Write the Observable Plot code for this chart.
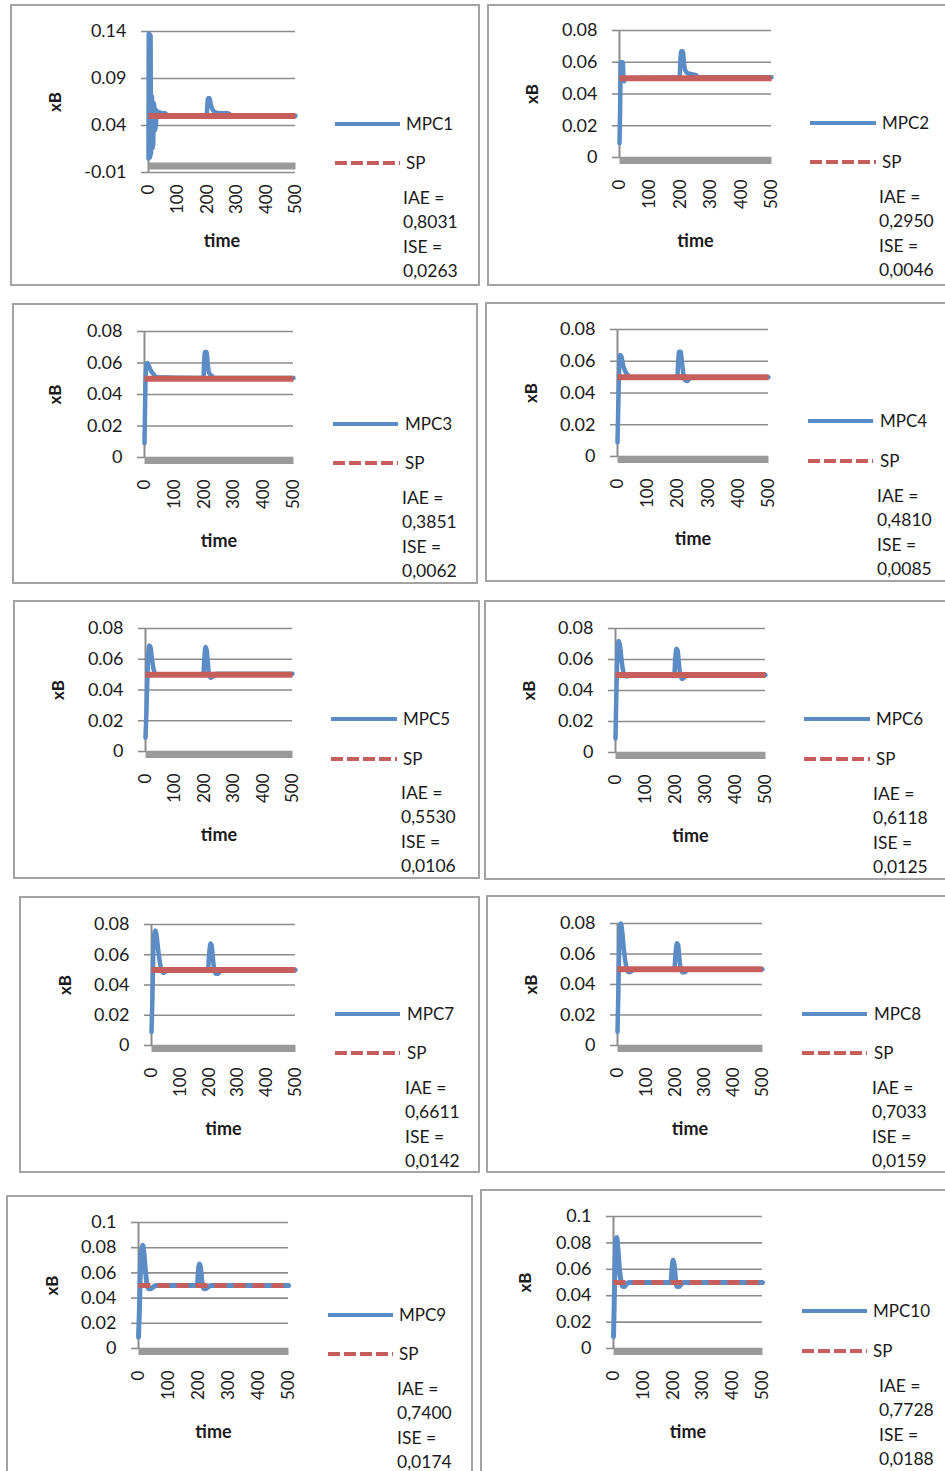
<!DOCTYPE html>
<html><head><meta charset="utf-8">
<script src="https://cdn.jsdelivr.net/npm/d3@7"></script>
<script src="https://cdn.jsdelivr.net/npm/@observablehq/plot@0.6"></script>
<style>
body{margin:0;background:#fff;}
#page{position:relative;width:945px;height:1471px;overflow:hidden;font-family:Lato,sans-serif;color:#1a1a1a;}
.box{position:absolute;border:2px solid #a3a3a3;box-sizing:border-box;}
.chart{position:absolute;}
.chart svg{max-width:none;}
.lg{position:absolute;font-size:17px;line-height:24px;height:24px;white-space:nowrap;}
.st{position:absolute;font-size:17.5px;line-height:24.6px;white-space:nowrap;}
</style></head><body><div id="page"></div>
<script>
// ---------- data ----------
const timeTicks = [0, 100, 200, 300, 400, 500];
const yTicksP1 = [-0.01, 0.04, 0.09, 0.14];
const yTicks08 = [0, 0.02, 0.04, 0.06, 0.08];
const yTicks10 = [0, 0.02, 0.04, 0.06, 0.08, 0.1];
const seriesNames = ["MPC1","MPC2","MPC3","MPC4","MPC5","MPC6","MPC7","MPC8","MPC9","MPC10"];
const iaeValues = ["0,8031","0,2950","0,3851","0,4810","0,5530","0,6118","0,6611","0,7033","0,7400","0,7728"];
const iseValues = ["0,0263","0,0046","0,0062","0,0085","0,0106","0,0125","0,0142","0,0159","0,0174","0,0188"];
const setpointSeries = [[0, 0.05], [500, 0.05]];
const zeroSeries = [[0, 0], [500, 0]];

const mpc1 = [[0,0.005],[1,0.138],[2.5,0.138],[4,0.006],[5.5,0.006],[7,0.136],[8.5,0.01],[10,0.07],[12,0.071],[14,0.016],[16,0.02],[18,0.064],[20,0.06],[22,0.035],[25,0.04],[28,0.056],[32,0.05],[38,0.054],[45,0.053],[57,0.053],[65,0.0505],[198,0.0505],[200,0.062],[203,0.069],[208,0.069],[212,0.062],[218,0.057],[228,0.054],[250,0.053],[270,0.053],[285,0.0505],[500,0.0505]];
const mpc2 = [[0,0.009],[2,0.03],[4,0.06],[11,0.06],[13,0.05],[15,0.048],[18,0.05],[198,0.0505],[200,0.06],[203,0.067],[208,0.067],[212,0.06],[216,0.055],[225,0.053],[250,0.052],[262,0.0505],[500,0.0505]];
const mpc3 = [[0,0.009],[3,0.045],[6,0.059],[10,0.06],[15,0.058],[22,0.055],[30,0.053],[40,0.051],[198,0.0505],[200,0.06],[203,0.067],[208,0.067],[212,0.06],[216,0.054],[225,0.052],[235,0.0505],[500,0.0505]];
const mpc4 = [[0,0.009],[3,0.035],[6,0.058],[9,0.064],[13,0.063],[18,0.058],[25,0.054],[33,0.0515],[45,0.05],[198,0.05],[201,0.06],[204,0.066],[209,0.066],[213,0.06],[218,0.052],[224,0.048],[230,0.0475],[238,0.049],[250,0.05],[500,0.05]];
const mpc5 = [[0,0.009],[3,0.025],[6,0.045],[9,0.062],[13,0.069],[17,0.068],[21,0.062],[26,0.055],[32,0.051],[40,0.05],[197,0.05],[200,0.06],[204,0.068],[208,0.066],[212,0.058],[216,0.05],[222,0.048],[230,0.049],[240,0.0505],[500,0.0505]];
const mpc6 = [[0,0.009],[2,0.03],[5,0.055],[8,0.07],[11,0.072],[15,0.069],[20,0.06],[25,0.053],[30,0.05],[36,0.049],[45,0.05],[196,0.05],[199,0.06],[203,0.067],[207,0.066],[211,0.058],[216,0.05],[222,0.0475],[228,0.048],[236,0.05],[500,0.05]];
const mpc7 = [[0,0.009],[3,0.03],[6,0.058],[10,0.074],[14,0.076],[18,0.072],[24,0.062],[30,0.054],[36,0.049],[42,0.048],[50,0.049],[60,0.05],[196,0.05],[200,0.06],[205,0.0675],[209,0.066],[213,0.058],[218,0.05],[224,0.0475],[232,0.0475],[242,0.05],[500,0.05]];
const mpc8 = [[0,0.009],[3,0.035],[6,0.065],[9,0.079],[12,0.08],[16,0.075],[22,0.063],[28,0.054],[34,0.049],[40,0.048],[50,0.049],[60,0.05],[196,0.05],[200,0.06],[205,0.067],[209,0.066],[213,0.058],[218,0.05],[224,0.048],[232,0.048],[242,0.05],[500,0.05]];
const mpc9 = [[0,0.009],[3,0.03],[6,0.06],[10,0.078],[14,0.082],[18,0.076],[23,0.062],[29,0.05],[35,0.0475],[42,0.0475],[50,0.049],[58,0.05],[196,0.05],[199,0.06],[203,0.067],[207,0.064],[211,0.054],[216,0.048],[223,0.0475],[232,0.049],[242,0.05],[500,0.05]];
const mpc10 = [[0,0.009],[2,0.03],[5,0.065],[8,0.083],[11,0.084],[15,0.075],[20,0.06],[26,0.05],[31,0.047],[37,0.047],[44,0.049],[52,0.05],[193,0.05],[196,0.06],[200,0.067],[204,0.063],[208,0.053],[213,0.047],[220,0.047],[228,0.049],[236,0.05],[500,0.05]];

const mpcSeries = [mpc1, mpc2, mpc3, mpc4, mpc5, mpc6, mpc7, mpc8, mpc9, mpc10];
const yDomains = [[-0.01,0.14],[0,0.08],[0,0.08],[0,0.08],[0,0.08],[0,0.08],[0,0.08],[0,0.08],[0,0.1],[0,0.1]];
const yTickSets = [yTicksP1, yTicks08, yTicks08, yTicks08, yTicks08, yTicks08, yTicks08, yTicks08, yTicks10, yTicks10];

// ---------- layout (pixels) ----------
const layout = [
  {box:[10,4,480,286],   frame:[148,295,31,172],     xB:[55,101],   time:[221,241],   pad:12, leg:[335,400,124,163,406],   st:[403,198]},
  {box:[487,4,960,286],  frame:[619,771,30,157],     xB:[532,93],   time:[695,241],   pad:22, leg:[810,876,123,162,882],   st:[879,197]},
  {box:[12,303,478,584], frame:[144,293,331,457],    xB:[55,394],   time:[218,541],   pad:22, leg:[333,398,424,463,405],   st:[402,498]},
  {box:[485,302,960,582],frame:[617,768,329,456],    xB:[531,392],  time:[692,539],   pad:22, leg:[808,873,421,461,880],   st:[877,496]},
  {box:[13,600,480,879], frame:[145,292,628,751],    xB:[58,690],   time:[218,835],   pad:22, leg:[331,397,719,759,403],   st:[401,793]},
  {box:[484,600,960,880],frame:[615,765,628,752],    xB:[529,689],  time:[690,836],   pad:22, leg:[804,870,719,759,876],   st:[873,794]},
  {box:[19,896,480,1173],frame:[151,295,924,1045],   xB:[65,985],   time:[222,1129],  pad:22, leg:[335,400,1014,1053,407], st:[405,1088]},
  {box:[486,895,960,1173],frame:[617,762,923,1045],  xB:[531,984],  time:[689,1129],  pad:22, leg:[802,867,1014,1053,874], st:[872,1088]},
  {box:[6,1195,473,1490],frame:[138,288,1222,1348],  xB:[52,1286],  time:[212,1432],  pad:22, leg:[328,393,1315,1354,399], st:[397,1389]},
  {box:[480,1189,960,1490],frame:[613,762,1216,1348],xB:[525,1282], time:[686,1432],  pad:22, leg:[802,867,1311,1351,873], st:[879,1386]}
];

const BLUE = "#5b8cc6", RED = "#c65f5b", GRID = "#8c8c8c", BASE = "#9a9a9a", INK = "#1a1a1a";
const fmt = d => d === 0 ? "0" : String(d);
const page = document.getElementById("page");

function el(tag, cls, style, html) {
  const e = document.createElement(tag);
  if (cls) e.className = cls;
  Object.assign(e.style, style || {});
  if (html != null) e.innerHTML = html;
  page.appendChild(e);
  return e;
}

layout.forEach((L, i) => {
  const [l, t, r, b] = L.box;
  const [x0, x1, yTop, yBot] = L.frame;
  el("div", "box", {left: l + "px", top: t + "px", width: (r - l) + "px", height: (b - t) + "px"});

  const W = x1 + 14 - l, H = b - t;
  const dashed = i >= 8;
  const chart = Plot.plot({
    width: W, height: H,
    marginLeft: x0 - l, marginRight: 14, marginTop: yTop - t, marginBottom: b - yBot,
    x: {domain: [0, 500], axis: null},
    y: {domain: yDomains[i], axis: null},
    style: {fontFamily: "Lato, sans-serif", fontSize: "17px", color: INK, background: "transparent", overflow: "visible"},
    marks: [
      Plot.gridY(yTickSets[i], {stroke: GRID, strokeOpacity: 1, strokeWidth: 1.6}),
      Plot.axisY(yTickSets[i], {tickSize: 7, tickPadding: 15, stroke: GRID, strokeWidth: 1.6, strokeOpacity: 1, tickFormat: fmt, label: null, fontSize: 18}),
      Plot.axisX(timeTicks, {tickSize: 0, tickPadding: L.pad, tickRotate: -90, textAnchor: "end", lineAnchor: "middle", label: null, fontSize: 17}),
      Plot.ruleX([0], {stroke: GRID, strokeWidth: 2}),
      Plot.line(zeroSeries, {x: d => d[0], y: d => d[1], stroke: BASE, strokeWidth: 7, dy: 3, strokeLinecap: "butt"}),
      Plot.line(mpcSeries[i], {x: d => d[0], y: d => d[1], stroke: BLUE, strokeWidth: dashed ? 5 : 4.5, curve: "monotone-x"}),
      Plot.line(setpointSeries, {x: d => d[0], y: d => d[1], stroke: RED, strokeWidth: dashed ? 5 : 6, strokeLinecap: "butt", strokeDasharray: dashed ? "12,7" : null}),
      Plot.text(["xB"], {frameAnchor: "left", dx: L.xB[0] - x0, rotate: -90, textAnchor: "middle", lineAnchor: "middle", fontWeight: "bold", fontSize: 17, fill: INK}),
      Plot.text(["time"], {frameAnchor: "bottom", dy: L.time[1] - yBot, textAnchor: "middle", lineAnchor: "middle", fontWeight: "bold", fontSize: 18, fill: INK})
    ]
  });
  const holder = el("div", "chart", {left: l + "px", top: t + "px", width: W + "px", height: H + "px"});
  holder.appendChild(chart);

  // legend
  const [lx0, lx1, yM, yS, lbx] = L.leg;
  const lw = lx1 - lx0;
  el("div", "lg", {left: lx0 + "px", top: (yM - 12) + "px"},
    `<svg width="${lw}" height="24" style="position:absolute;left:0;top:0"><line x1="0" x2="${lw}" y1="12" y2="12" stroke="${BLUE}" stroke-width="4"/></svg>`);
  el("div", "lg", {left: lbx + "px", top: (yM - 12) + "px"}, seriesNames[i]);
  el("div", "lg", {left: lx0 + "px", top: (yS - 12) + "px"},
    `<svg width="${lw}" height="24" style="position:absolute;left:0;top:0"><line x1="0" x2="${lw}" y1="12" y2="12" stroke="${RED}" stroke-width="4" stroke-dasharray="12,4"/></svg>`);
  el("div", "lg", {left: lbx + "px", top: (yS - 12) + "px"}, "SP");

  // stats
  el("div", "st", {left: L.st[0] + "px", top: (L.st[1] - 12.3) + "px"},
    `IAE =<br>${iaeValues[i]}<br>ISE =<br>${iseValues[i]}`);
});
</script></body></html>
